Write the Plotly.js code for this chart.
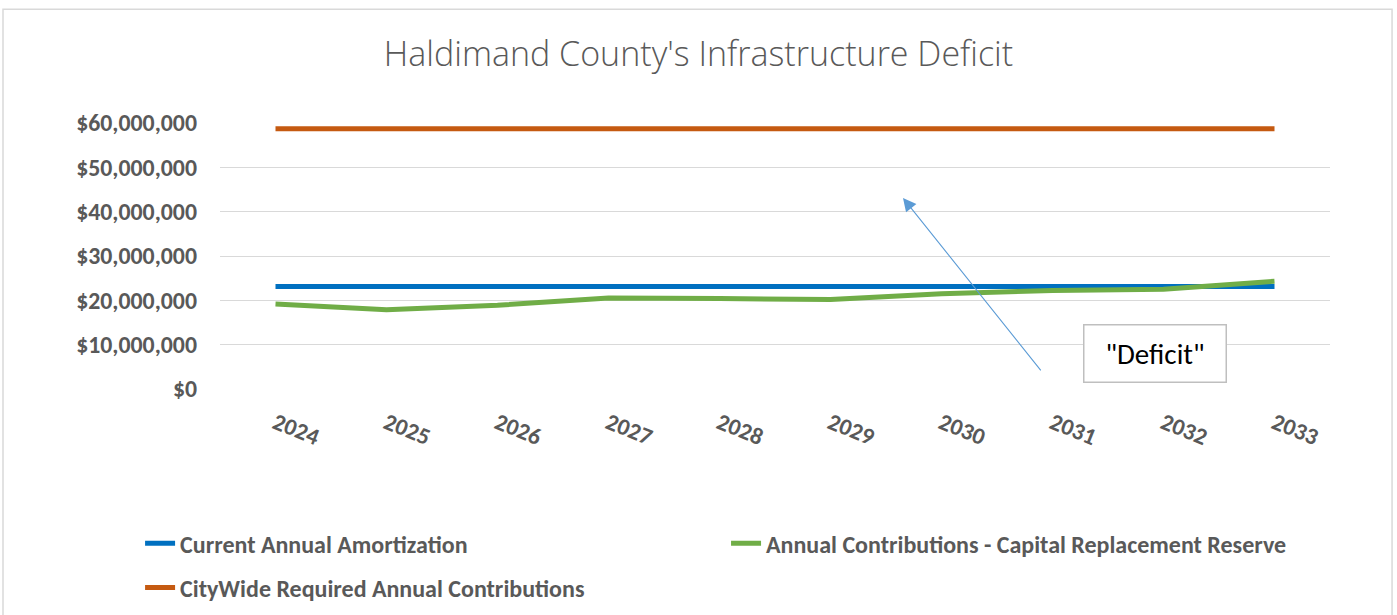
<!DOCTYPE html>
<html>
<head>
<meta charset="utf-8">
<script src="https://cdn.plot.ly/plotly-3.0.1.min.js"></script>
<style>
  html, body { margin: 0; padding: 0; background: #ffffff; }
  #chart { width: 1397px; height: 615px; }
</style>
</head>
<body>
<div id="chart"></div>
<script>
// ---- Data ----
const years = ['2024', '2025', '2026', '2027', '2028', '2029', '2030', '2031', '2032', '2033'];
const currentAnnualAmortization = [23100000, 23100000, 23100000, 23100000, 23100000, 23100000, 23100000, 23100000, 23100000, 23100000];
const annualContributionsReserve = [19200000, 17900000, 18900000, 20500000, 20400000, 20200000, 21500000, 22200000, 22500000, 24300000];
const cityWideRequired = [58700000, 58700000, 58700000, 58700000, 58700000, 58700000, 58700000, 58700000, 58700000, 58700000];
const seriesNames = ['Current Annual Amortization', 'Annual Contributions - Capital Replacement Reserve', 'CityWide Required Annual Contributions'];
const chartTitle = "Haldimand County's Infrastructure Deficit";
const annotationText = '"Deficit"';

const grey = '#595959';
const font = 'Carlito, "Liberation Sans", Arial, sans-serif';

const traces = [
  { x: years, y: currentAnnualAmortization, name: seriesNames[0], type: 'scatter', mode: 'lines',
    line: { color: '#0070C0', width: 5 }, legend: 'legend', legendgroup: 'g1' },
  { x: years, y: annualContributionsReserve, name: seriesNames[1], type: 'scatter', mode: 'lines',
    line: { color: '#70AD47', width: 5 }, legend: 'legend2', legendgroup: 'g2' },
  { x: years, y: cityWideRequired, name: seriesNames[2], type: 'scatter', mode: 'lines',
    line: { color: '#C55A11', width: 5 }, legend: 'legend', legendgroup: 'g3' }
];

const layout = {
  width: 1397, height: 615,
  margin: { l: 220, r: 67, t: 123, b: 226, autoexpand: false },
  paper_bgcolor: '#ffffff', plot_bgcolor: '#ffffff',
  title: { text: chartTitle, x: 0.5, xref: 'container', xanchor: 'center',
           y: 1 - 54 / 615, yref: 'container', yanchor: 'middle',
           font: { family: '"Open Sans", sans-serif', size: 34, color: grey, weight: 300 } },
  xaxis: { type: 'category', range: [-0.5, 9.5], showgrid: false, showline: false, zeroline: false,
           ticks: '', tickangle: 22, ticklabelstandoff: 15,
           tickfont: { family: font, size: 23.5, color: grey, weight: 'bold' } },
  yaxis: { range: [0, 60000000], dtick: 10000000, tickformat: '$,.0f', showgrid: true,
           gridcolor: '#D9D9D9', gridwidth: 1, zeroline: false, showline: false, ticks: '',
           ticklabelstandoff: 22,
           tickfont: { family: font, size: 23.8, color: grey, weight: 'bold' } },
  showlegend: true,
  legend: { orientation: 'v', x: -0.072, xanchor: 'left', xref: 'paper', y: -0.497, yanchor: 'top',
            bgcolor: 'rgba(0,0,0,0)', tracegroupgap: 10,
            font: { family: font, size: 24, color: grey, weight: 'bold' } },
  legend2: { orientation: 'v', x: 0.4559, xanchor: 'left', xref: 'paper', y: -0.497, yanchor: 'top',
             bgcolor: 'rgba(0,0,0,0)',
             font: { family: font, size: 24, color: grey, weight: 'bold' } },
  shapes: [
    { type: 'rect', xref: 'paper', yref: 'paper', x0: -0.1955, x1: 1.0559, y0: -0.9, y1: 1.428,
      line: { color: '#D9D9D9', width: 1.5 }, fillcolor: 'rgba(0,0,0,0)', layer: 'below' }
  ],
  annotations: [
    { xref: 'paper', yref: 'paper', x: 0.6153, y: 0.7184, text: '', showarrow: true,
      ax: 139, ay: 174, axref: 'pixel', ayref: 'pixel',
      arrowhead: 2, arrowsize: 2.4, arrowwidth: 1.1, arrowcolor: '#5B9BD5', standoff: 0, startstandoff: 0 },
    { xref: 'paper', yref: 'paper', x: 0.8419, y: 0.1326, xanchor: 'center', yanchor: 'middle',
      text: annotationText, showarrow: false, width: 137, height: 52,
      bgcolor: '#ffffff', bordercolor: '#BFBFBF', borderwidth: 1.5, borderpad: 2,
      font: { family: font, size: 29, color: '#000000' } }
  ]
};

Plotly.newPlot('chart', traces, layout, { displayModeBar: false, responsive: false });
</script>
</body>
</html>
